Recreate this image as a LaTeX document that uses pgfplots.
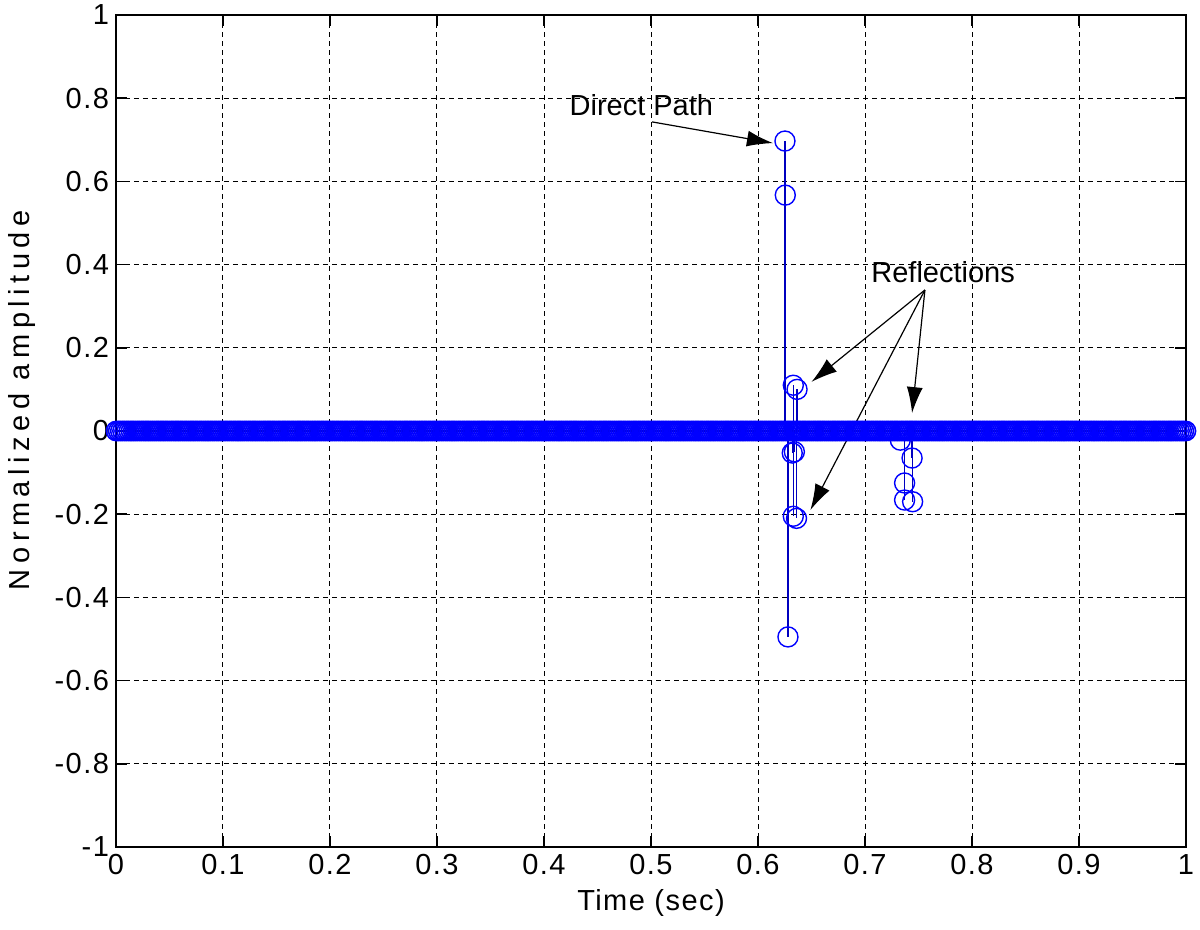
\documentclass[border=0pt]{standalone}
\usepackage{fontspec}
\setmainfont{Liberation Sans}
\usepackage{pgfplots}
\pgfplotsset{compat=1.18}
\usetikzlibrary{arrows.meta}
\begin{document}
\begin{tikzpicture}
\begin{axis}[
  at={(0,0)}, anchor=south west,
  scale only axis,
  width=535pt, height=416pt,
  xmin=0, xmax=1, ymin=-1, ymax=1,
  xtick={0,0.1,...,1.01},
  ytick={-1,-0.8,...,1.01},
  font=\fontsize{14.5}{17}\selectfont,
  tick label style={font=\fontsize{14.5}{17}\selectfont\addfontfeatures{LetterSpace=5}},
  /pgf/number format/assume math mode=true,
  grid=major,
  grid style={black, line width=0.5pt, dash pattern=on 2.5pt off 2pt},
  axis line style={black, line width=0.8pt},
  tick align=inside,
  major tick length=5.5pt,
  major tick style={black, line width=0.8pt},
  xlabel={\addfontfeatures{LetterSpace=5}Time (sec)},
  ylabel={\addfontfeatures{LetterSpace=19}Normalized amplitude},
  every axis x label/.style={at={(axis description cs:0.5,-0.067)}, anchor=center},
  every axis y label/.style={at={(axis description cs:-0.088,0.537)}, rotate=90, anchor=center},
  clip=false,
]
% zero samples (dense band on the time axis)
\addplot[blue, line width=0.8pt, only marks, mark=o, mark size=4.8pt] coordinates {
(0.000,0)(0.002,0)(0.004,0)(0.006,0)(0.008,0)(0.010,0)(0.012,0)(0.014,0)(0.016,0)(0.018,0)
(0.020,0)(0.022,0)(0.024,0)(0.026,0)(0.028,0)(0.030,0)(0.032,0)(0.034,0)(0.036,0)(0.038,0)
(0.040,0)(0.042,0)(0.044,0)(0.046,0)(0.048,0)(0.050,0)(0.052,0)(0.054,0)(0.056,0)(0.058,0)
(0.060,0)(0.062,0)(0.064,0)(0.066,0)(0.068,0)(0.070,0)(0.072,0)(0.074,0)(0.076,0)(0.078,0)
(0.080,0)(0.082,0)(0.084,0)(0.086,0)(0.088,0)(0.090,0)(0.092,0)(0.094,0)(0.096,0)(0.098,0)
(0.100,0)(0.102,0)(0.104,0)(0.106,0)(0.108,0)(0.110,0)(0.112,0)(0.114,0)(0.116,0)(0.118,0)
(0.120,0)(0.122,0)(0.124,0)(0.126,0)(0.128,0)(0.130,0)(0.132,0)(0.134,0)(0.136,0)(0.138,0)
(0.140,0)(0.142,0)(0.144,0)(0.146,0)(0.148,0)(0.150,0)(0.152,0)(0.154,0)(0.156,0)(0.158,0)
(0.160,0)(0.162,0)(0.164,0)(0.166,0)(0.168,0)(0.170,0)(0.172,0)(0.174,0)(0.176,0)(0.178,0)
(0.180,0)(0.182,0)(0.184,0)(0.186,0)(0.188,0)(0.190,0)(0.192,0)(0.194,0)(0.196,0)(0.198,0)
(0.200,0)(0.202,0)(0.204,0)(0.206,0)(0.208,0)(0.210,0)(0.212,0)(0.214,0)(0.216,0)(0.218,0)
(0.220,0)(0.222,0)(0.224,0)(0.226,0)(0.228,0)(0.230,0)(0.232,0)(0.234,0)(0.236,0)(0.238,0)
(0.240,0)(0.242,0)(0.244,0)(0.246,0)(0.248,0)(0.250,0)(0.252,0)(0.254,0)(0.256,0)(0.258,0)
(0.260,0)(0.262,0)(0.264,0)(0.266,0)(0.268,0)(0.270,0)(0.272,0)(0.274,0)(0.276,0)(0.278,0)
(0.280,0)(0.282,0)(0.284,0)(0.286,0)(0.288,0)(0.290,0)(0.292,0)(0.294,0)(0.296,0)(0.298,0)
(0.300,0)(0.302,0)(0.304,0)(0.306,0)(0.308,0)(0.310,0)(0.312,0)(0.314,0)(0.316,0)(0.318,0)
(0.320,0)(0.322,0)(0.324,0)(0.326,0)(0.328,0)(0.330,0)(0.332,0)(0.334,0)(0.336,0)(0.338,0)
(0.340,0)(0.342,0)(0.344,0)(0.346,0)(0.348,0)(0.350,0)(0.352,0)(0.354,0)(0.356,0)(0.358,0)
(0.360,0)(0.362,0)(0.364,0)(0.366,0)(0.368,0)(0.370,0)(0.372,0)(0.374,0)(0.376,0)(0.378,0)
(0.380,0)(0.382,0)(0.384,0)(0.386,0)(0.388,0)(0.390,0)(0.392,0)(0.394,0)(0.396,0)(0.398,0)
(0.400,0)(0.402,0)(0.404,0)(0.406,0)(0.408,0)(0.410,0)(0.412,0)(0.414,0)(0.416,0)(0.418,0)
(0.420,0)(0.422,0)(0.424,0)(0.426,0)(0.428,0)(0.430,0)(0.432,0)(0.434,0)(0.436,0)(0.438,0)
(0.440,0)(0.442,0)(0.444,0)(0.446,0)(0.448,0)(0.450,0)(0.452,0)(0.454,0)(0.456,0)(0.458,0)
(0.460,0)(0.462,0)(0.464,0)(0.466,0)(0.468,0)(0.470,0)(0.472,0)(0.474,0)(0.476,0)(0.478,0)
(0.480,0)(0.482,0)(0.484,0)(0.486,0)(0.488,0)(0.490,0)(0.492,0)(0.494,0)(0.496,0)(0.498,0)
(0.500,0)(0.502,0)(0.504,0)(0.506,0)(0.508,0)(0.510,0)(0.512,0)(0.514,0)(0.516,0)(0.518,0)
(0.520,0)(0.522,0)(0.524,0)(0.526,0)(0.528,0)(0.530,0)(0.532,0)(0.534,0)(0.536,0)(0.538,0)
(0.540,0)(0.542,0)(0.544,0)(0.546,0)(0.548,0)(0.550,0)(0.552,0)(0.554,0)(0.556,0)(0.558,0)
(0.560,0)(0.562,0)(0.564,0)(0.566,0)(0.568,0)(0.570,0)(0.572,0)(0.574,0)(0.576,0)(0.578,0)
(0.580,0)(0.582,0)(0.584,0)(0.586,0)(0.588,0)(0.590,0)(0.592,0)(0.594,0)(0.596,0)(0.598,0)
(0.600,0)(0.602,0)(0.604,0)(0.606,0)(0.608,0)(0.610,0)(0.612,0)(0.614,0)(0.616,0)(0.618,0)
(0.620,0)(0.622,0)(0.624,0)(0.626,0)(0.628,0)(0.630,0)(0.632,0)(0.634,0)(0.636,0)(0.638,0)
(0.640,0)(0.642,0)(0.644,0)(0.646,0)(0.648,0)(0.650,0)(0.652,0)(0.654,0)(0.656,0)(0.658,0)
(0.660,0)(0.662,0)(0.664,0)(0.666,0)(0.668,0)(0.670,0)(0.672,0)(0.674,0)(0.676,0)(0.678,0)
(0.680,0)(0.682,0)(0.684,0)(0.686,0)(0.688,0)(0.690,0)(0.692,0)(0.694,0)(0.696,0)(0.698,0)
(0.700,0)(0.702,0)(0.704,0)(0.706,0)(0.708,0)(0.710,0)(0.712,0)(0.714,0)(0.716,0)(0.718,0)
(0.720,0)(0.722,0)(0.724,0)(0.726,0)(0.728,0)(0.730,0)(0.732,0)(0.734,0)(0.736,0)(0.738,0)
(0.740,0)(0.742,0)(0.744,0)(0.746,0)(0.748,0)(0.750,0)(0.752,0)(0.754,0)(0.756,0)(0.758,0)
(0.760,0)(0.762,0)(0.764,0)(0.766,0)(0.768,0)(0.770,0)(0.772,0)(0.774,0)(0.776,0)(0.778,0)
(0.780,0)(0.782,0)(0.784,0)(0.786,0)(0.788,0)(0.790,0)(0.792,0)(0.794,0)(0.796,0)(0.798,0)
(0.800,0)(0.802,0)(0.804,0)(0.806,0)(0.808,0)(0.810,0)(0.812,0)(0.814,0)(0.816,0)(0.818,0)
(0.820,0)(0.822,0)(0.824,0)(0.826,0)(0.828,0)(0.830,0)(0.832,0)(0.834,0)(0.836,0)(0.838,0)
(0.840,0)(0.842,0)(0.844,0)(0.846,0)(0.848,0)(0.850,0)(0.852,0)(0.854,0)(0.856,0)(0.858,0)
(0.860,0)(0.862,0)(0.864,0)(0.866,0)(0.868,0)(0.870,0)(0.872,0)(0.874,0)(0.876,0)(0.878,0)
(0.880,0)(0.882,0)(0.884,0)(0.886,0)(0.888,0)(0.890,0)(0.892,0)(0.894,0)(0.896,0)(0.898,0)
(0.900,0)(0.902,0)(0.904,0)(0.906,0)(0.908,0)(0.910,0)(0.912,0)(0.914,0)(0.916,0)(0.918,0)
(0.920,0)(0.922,0)(0.924,0)(0.926,0)(0.928,0)(0.930,0)(0.932,0)(0.934,0)(0.936,0)(0.938,0)
(0.940,0)(0.942,0)(0.944,0)(0.946,0)(0.948,0)(0.950,0)(0.952,0)(0.954,0)(0.956,0)(0.958,0)
(0.960,0)(0.962,0)(0.964,0)(0.966,0)(0.968,0)(0.970,0)(0.972,0)(0.974,0)(0.976,0)(0.978,0)
(0.980,0)(0.982,0)(0.984,0)(0.986,0)(0.988,0)(0.990,0)(0.992,0)(0.994,0)(0.996,0)(0.998,0)
(1.000,0)
};
% baseline
\addplot[blue!60!black, line width=0.8pt] coordinates {(0,0)(1,0)};
% non-zero samples as stems
\addplot[ycomb, blue!75!black, line width=0.6pt, mark=o, mark size=5pt,
  mark options={blue, line width=0.7pt}] coordinates {
(0.6252,0.697)(0.6255,0.567)(0.6330,0.110)(0.6365,0.100)
(0.6320,-0.053)(0.6340,-0.050)(0.6330,-0.205)(0.6360,-0.210)
(0.6280,-0.495)
(0.7330,-0.022)(0.7370,-0.125)(0.7440,-0.065)(0.7370,-0.166)(0.7445,-0.170)
};
% annotations
\node[font=\fontsize{14.5}{17}\selectfont] at (axis cs:0.491,0.784) {Direct Path};
\draw[line width=0.6pt, -{Latex[length=13pt,width=8pt]}] (axis cs:0.501,0.743) -- (axis cs:0.614,0.692);
\node[font=\fontsize{14.5}{17}\selectfont] at (axis cs:0.773,0.382) {Reflections};
\draw[line width=0.6pt, -{Latex[length=13pt,width=8pt]}] (axis cs:0.756,0.339) -- (axis cs:0.650,0.118);
\draw[line width=0.6pt, -{Latex[length=13pt,width=8pt]}] (axis cs:0.756,0.339) -- (axis cs:0.649,-0.190);
\draw[line width=0.6pt, -{Latex[length=13pt,width=8pt]}] (axis cs:0.756,0.339) -- (axis cs:0.744,0.043);
\end{axis}
\pgfresetboundingbox
\path[use as bounding box] (-58pt,-41.5pt) rectangle (542pt,423.5pt);
\end{tikzpicture}
\end{document}
